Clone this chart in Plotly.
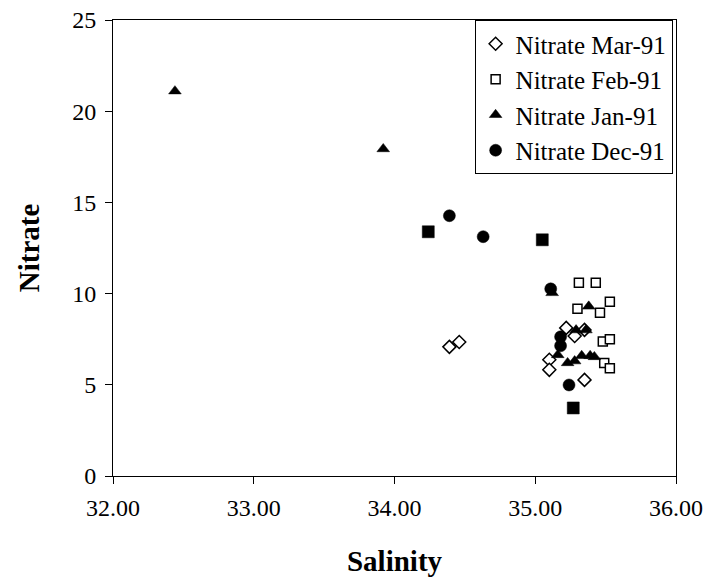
import plotly.graph_objects as go

# Nitrate Mar-91
mar_sal = [34.39, 34.46, 35.22, 35.35, 35.28, 35.10, 35.10, 35.35]
mar_nit = [7.08, 7.35, 8.12, 8.01, 7.68, 6.37, 5.82, 5.27]

# Nitrate Feb-91
feb_sal = [35.31, 35.43, 35.53, 35.30, 35.46, 35.48, 35.53, 35.49, 35.53]
feb_nit = [10.59, 10.59, 9.55, 9.17, 8.95, 7.37, 7.50, 6.19, 5.91]

# Nitrate Jan-91
jan_sal = [32.44, 33.92, 35.12, 35.38, 35.29, 35.36, 35.16, 35.23, 35.28, 35.33, 35.39, 35.42]
jan_nit = [21.10, 17.93, 10.04, 9.30, 8.00, 8.00, 6.64, 6.20, 6.30, 6.59, 6.59, 6.53]

# Nitrate Dec-91
dec_sal = [34.39, 34.24, 34.63, 35.05, 35.11, 35.18, 35.18, 35.24, 35.27]
dec_nit = [14.27, 13.39, 13.12, 12.95, 10.26, 7.63, 7.14, 4.99, 3.73]
dec_sym = ["circle", "square", "circle", "square", "circle", "circle", "circle", "circle", "square"]

FONT = "Liberation Serif, Times New Roman, serif"

fig = go.Figure()
fig.add_trace(go.Scatter(x=mar_sal, y=mar_nit, mode="markers", name="Nitrate Mar-91",
                         marker=dict(symbol="diamond", size=10, color="white",
                                     line=dict(color="black", width=1.5))))
fig.add_trace(go.Scatter(x=feb_sal, y=feb_nit, mode="markers", name="Nitrate Feb-91",
                         marker=dict(symbol="square", size=9, color="white",
                                     line=dict(color="black", width=1.5))))
fig.add_trace(go.Scatter(x=jan_sal, y=jan_nit, mode="markers", name="Nitrate Jan-91",
                         marker=dict(symbol="triangle-up", size=11, color="black",
                                     line=dict(color="black", width=0.5))))
fig.add_trace(go.Scatter(x=dec_sal, y=dec_nit, mode="markers", name="Nitrate Dec-91",
                         marker=dict(symbol=dec_sym, size=12, color="black",
                                     line=dict(color="black", width=0.5))))

fig.update_layout(
    width=708, height=586,
    margin=dict(l=113, r=32, t=20, b=110, autoexpand=False),
    paper_bgcolor="white", plot_bgcolor="white",
    font=dict(family=FONT, color="black", size=24),
    showlegend=True,
    legend=dict(x=0.994, y=1.0, xanchor="right", yanchor="top",
                bgcolor="white", bordercolor="black", borderwidth=1,
                font=dict(family=FONT, size=25, color="black"),
                itemwidth=30, tracegroupgap=0),
    xaxis=dict(range=[32, 36], dtick=1, tick0=32, tickformat=".2f", automargin=False,
               showgrid=False, zeroline=False, showline=True, linecolor="black",
               linewidth=1, mirror=True, ticks="outside", ticklen=7, tickcolor="black",
               tickfont=dict(family=FONT, size=24), ticklabelstandoff=3,
               title=dict(text="<b>Salinity</b>", font=dict(family=FONT, size=29), standoff=30)),
    yaxis=dict(range=[0, 25], dtick=5, tick0=0, automargin=False,
               showgrid=False, zeroline=False, showline=True, linecolor="black",
               linewidth=1, mirror=True, ticks="outside", ticklen=7, tickcolor="black",
               tickfont=dict(family=FONT, size=24), ticklabelstandoff=4,
               title=dict(text="<b>Nitrate</b>", font=dict(family=FONT, size=29), standoff=24)),
)

fig.write_html("out.html")
